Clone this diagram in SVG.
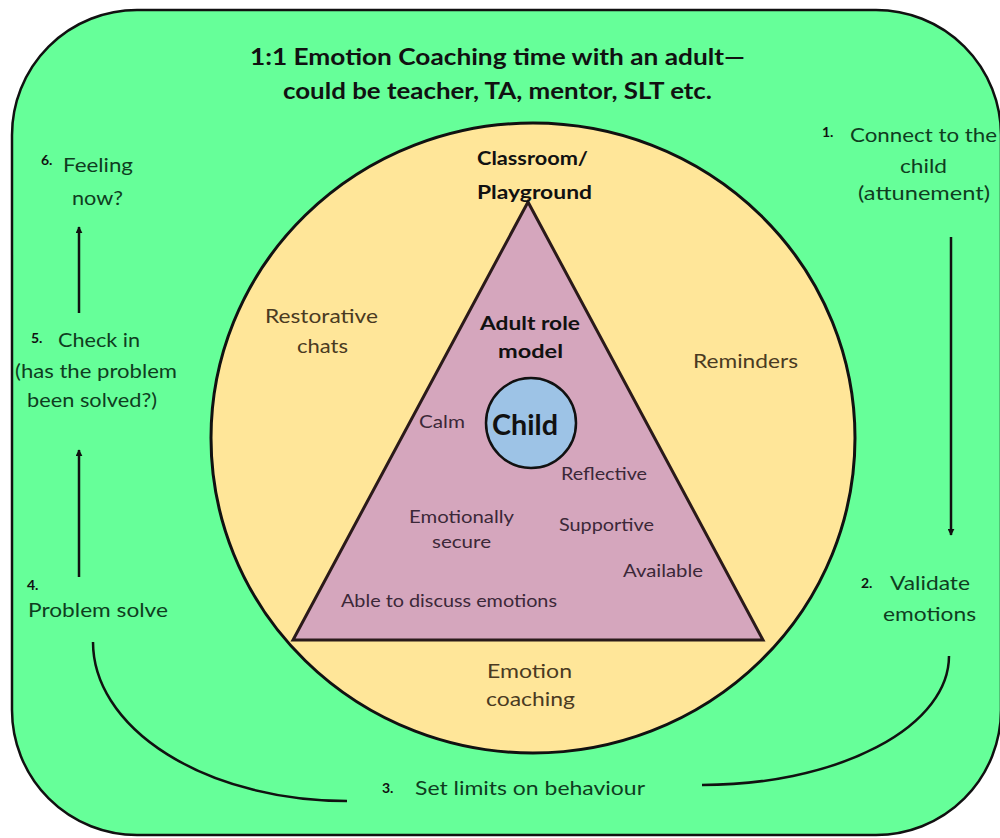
<svg xmlns="http://www.w3.org/2000/svg" width="1000" height="838" viewBox="0 0 1000 838">
<defs>
<style>
text{font-family:Lato,"Open Sans","Liberation Sans",sans-serif;}
.title{font-size:22px;font-weight:bold;fill:#111;}
.side{font-size:19px;fill:#0f3d1f;}
.num{font-size:14px;font-weight:bold;fill:#111;}
.circ{font-size:19px;fill:#4a3a22;}
.tri{font-size:17px;fill:#3b2838;}
.bold{font-size:18px;font-weight:bold;fill:#111;}
.line{fill:none;stroke:#111;stroke-width:2.5;}
</style>
<marker id="ah" viewBox="0 0 10 10" refX="9" refY="5" markerWidth="7" markerHeight="7" markerUnits="userSpaceOnUse" orient="auto">
<path d="M0,0 L10,5 L0,10 Z" fill="#111"/>
</marker>
</defs>
<rect width="1000" height="838" fill="#ffffff"/>
<g id="frame">
<rect x="12" y="10" width="989" height="825" rx="125" ry="125" fill="#66FF99" stroke="#111" stroke-width="2.5"/>
<text class="title" x="250" y="65" textLength="495" lengthAdjust="spacingAndGlyphs">1:1 Emotion Coaching time with an adult—</text>
<text class="title" x="283" y="99" textLength="429" lengthAdjust="spacingAndGlyphs">could be teacher, TA, mentor, SLT etc.</text>
</g>
<g id="context-circle">
<ellipse cx="533" cy="438" rx="322" ry="315" fill="#FFE699" stroke="#111" stroke-width="3"/>
<text class="bold" x="477" y="165" textLength="111" lengthAdjust="spacingAndGlyphs">Classroom/</text>
<text class="circ" x="265" y="323" textLength="113" lengthAdjust="spacingAndGlyphs">Restorative</text>
<text class="circ" x="297" y="353" textLength="51" lengthAdjust="spacingAndGlyphs">chats</text>
<text class="circ" x="693" y="368" textLength="105" lengthAdjust="spacingAndGlyphs">Reminders</text>
<text class="circ" x="487" y="678" textLength="85" lengthAdjust="spacingAndGlyphs">Emotion</text>
<text class="circ" x="486" y="706" textLength="89" lengthAdjust="spacingAndGlyphs">coaching</text>
</g>
<g id="adult-triangle">
<polygon points="528,202 293,640 763,640" fill="#D5A6BD" stroke="#2a1a1a" stroke-width="3" stroke-linejoin="miter"/>
<text class="bold" x="477" y="199" textLength="115" lengthAdjust="spacingAndGlyphs">Playground</text>
<text class="bold" x="480" y="330" textLength="100" lengthAdjust="spacingAndGlyphs">Adult role</text>
<text class="bold" x="498" y="358" textLength="65" lengthAdjust="spacingAndGlyphs">model</text>
<text class="tri" x="419" y="428" textLength="46" lengthAdjust="spacingAndGlyphs">Calm</text>
<text class="tri" x="561" y="480" textLength="86" lengthAdjust="spacingAndGlyphs">Reflective</text>
<text class="tri" x="409" y="523" textLength="105" lengthAdjust="spacingAndGlyphs">Emotionally</text>
<text class="tri" x="432" y="548" textLength="59" lengthAdjust="spacingAndGlyphs">secure</text>
<text class="tri" x="559" y="531" textLength="95" lengthAdjust="spacingAndGlyphs">Supportive</text>
<text class="tri" x="623" y="577" textLength="80" lengthAdjust="spacingAndGlyphs">Available</text>
<text class="tri" x="341" y="607" textLength="216" lengthAdjust="spacingAndGlyphs">Able to discuss emotions</text>
</g>
<g id="child">
<circle cx="531" cy="423" r="45" fill="#9DC3E6" stroke="#111" stroke-width="2.5"/>
<text x="492" y="435" font-size="28" font-weight="bold" fill="#111" textLength="66" lengthAdjust="spacingAndGlyphs">Child</text>
</g>
<g id="step1">
<text class="num" x="822" y="137">1.</text>
<text class="side" x="850" y="142" textLength="147" lengthAdjust="spacingAndGlyphs">Connect to the</text>
<text class="side" x="900" y="173" textLength="47" lengthAdjust="spacingAndGlyphs">child</text>
<text class="side" x="858" y="200" textLength="132" lengthAdjust="spacingAndGlyphs">(attunement)</text>
</g>
<g id="step2">
<text class="num" x="861" y="588">2.</text>
<text class="side" x="890" y="590" textLength="80" lengthAdjust="spacingAndGlyphs">Validate</text>
<text class="side" x="883" y="621" textLength="93" lengthAdjust="spacingAndGlyphs">emotions</text>
</g>
<g id="step3">
<text class="num" x="382" y="793">3.</text>
<text class="side" x="415" y="795" textLength="230" lengthAdjust="spacingAndGlyphs">Set limits on behaviour</text>
</g>
<g id="step4">
<text class="num" x="27" y="590">4.</text>
<text class="side" x="28" y="617" textLength="140" lengthAdjust="spacingAndGlyphs">Problem solve</text>
</g>
<g id="step5">
<text class="num" x="31" y="343">5.</text>
<text class="side" x="58" y="347" textLength="82" lengthAdjust="spacingAndGlyphs">Check in</text>
<text class="side" x="15" y="378" textLength="162" lengthAdjust="spacingAndGlyphs">(has the problem</text>
<text class="side" x="27" y="407" textLength="130" lengthAdjust="spacingAndGlyphs">been solved?)</text>
</g>
<g id="step6">
<text class="num" x="41" y="165">6.</text>
<text class="side" x="63" y="172" textLength="70" lengthAdjust="spacingAndGlyphs">Feeling</text>
<text class="side" x="72" y="205" textLength="51" lengthAdjust="spacingAndGlyphs">now?</text>
</g>
<g id="connectors">
<line class="line" x1="951" y1="237" x2="951" y2="535" marker-end="url(#ah)"/>
<path class="line" d="M949,656 A247,129 0 0 1 702,785"/>
<path class="line" d="M347,801 A254,159 0 0 1 93,642"/>
<line class="line" x1="79" y1="577" x2="79" y2="450" marker-end="url(#ah)"/>
<line class="line" x1="79" y1="313" x2="79" y2="227" marker-end="url(#ah)"/>
</g>
</svg>
